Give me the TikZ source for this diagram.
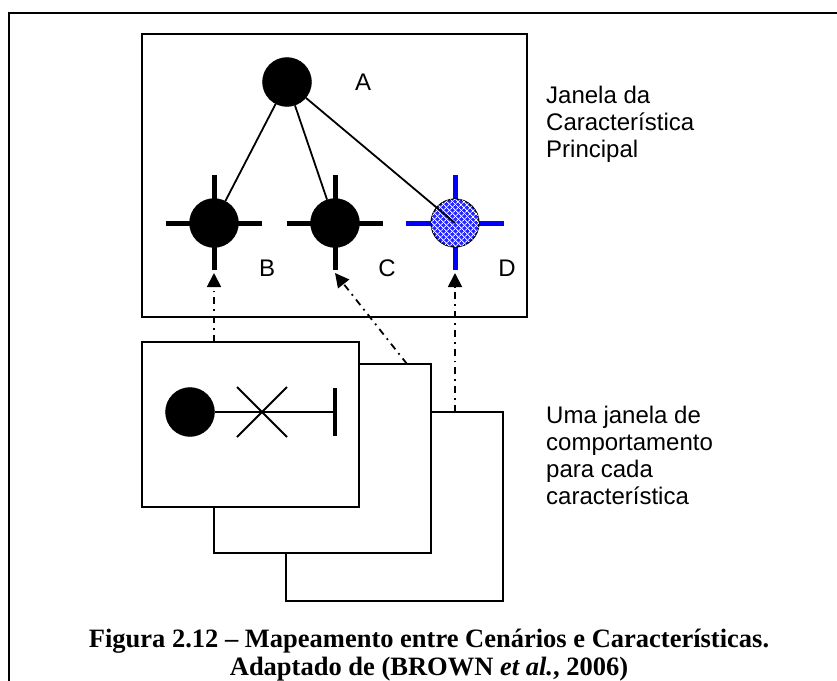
\documentclass[tikz,border=0pt]{standalone}
\usepackage{fontspec}
\setmainfont{Liberation Serif}
\setsansfont{Liberation Sans}
\usetikzlibrary{arrows.meta,patterns.meta}

\tikzset{
  dot/.style={circle, fill=black, draw=black, inner sep=0pt, minimum size=49pt},
  bar/.style={line width=5pt},
  win/.style={draw, line width=2.3pt, fill=white},
  link/.style={line width=1.8pt},
  maparrow/.style={line width=1.8pt, dash pattern=on 7pt off 5pt on 1.8pt off 5pt,
    -{Triangle[width=14pt,length=14pt]}},
  lbl/.style={font=\sffamily\fontsize{24}{27}\selectfont, inner sep=0pt},
}

\begin{document}
\begin{tikzpicture}[x=1pt,y=-1pt]
  \useasboundingbox (0,0) rectangle (837,680);
  \clip (0,0) rectangle (837,680);
  % frame of the figure
  \draw[line width=2.3pt] (9,13) rectangle (870,720);

  % main feature window
  \draw[line width=2.8pt] (142,34) rectangle (527,317);
  \foreach \x in {214,335} {
    \draw[bar] (\x-48,223) -- (\x+48,223) (\x,175) -- (\x,270);
  }
  \draw[bar, blue] (406,223) -- (504,223) (455,175) -- (455,270);
  \node[dot] (A) at (287,82) {};
  \node[dot] (B) at (214,223) {};
  \node[dot] (C) at (335,223) {};
  \node[circle, draw, line width=1.2pt, inner sep=0pt, minimum size=48pt, fill=blue!85,
    postaction={pattern={Lines[angle=45,distance=4pt,line width=1pt]}, pattern color=white},
    postaction={pattern={Lines[angle=-45,distance=4pt,line width=1pt]}, pattern color=white}]
    (D) at (455,223) {};
  \node[lbl] (la) at (363,82) {A};
  \node[lbl] (lb) at (267,268) {B};
  \node[lbl] (lc) at (387,268) {C};
  \node[lbl] (ld) at (507,268) {D};

  \draw[link] (A) -- (B);
  \draw[link] (A) -- (C);
  \draw[link] (A) -- (D.center);

  % behaviour windows
  \draw[win] (286,412) rectangle (503,601);
  \draw[win] (214,364) rectangle (431,553);
  \draw[win] (142,342) rectangle (359,507);
  \coordinate (w1) at (214,342);
  \coordinate (w2) at (407,364);
  \coordinate (w3) at (455,412);

  \node[dot] (s) at (190,412) {};
  \coordinate (t) at (335,412);
  \draw[link] (s) -- (t);
  \draw[link] (237,387) -- (287,437) (237,437) -- (287,387);
  \draw[line width=4.5pt] (335,388) -- (335,436);

  \draw[maparrow] (w1) -- ([yshift=-50pt]B.center);
  \draw[maparrow] (w2) -- ([yshift=-50pt]C.center);
  \draw[maparrow] (w3) -- ([yshift=-50pt]D.center);

  \node[lbl, align=left, anchor=north west] (janela) at (546,86)
    {Janela da\\Característica\\Principal};
  \node[lbl, align=left, anchor=north west] (uma) at (546,406)
    {Uma janela de\\comportamento\\para cada\\característica};

  \node[font=\bfseries\fontsize{26.5}{28}\selectfont, align=center, anchor=north, inner sep=0pt]
    (cap) at (429,629)
    {Figura 2.12 – Mapeamento entre Cenários e Características.\\
     Adaptado de (BROWN \textit{et al.}, 2006)};
\end{tikzpicture}
\end{document}
